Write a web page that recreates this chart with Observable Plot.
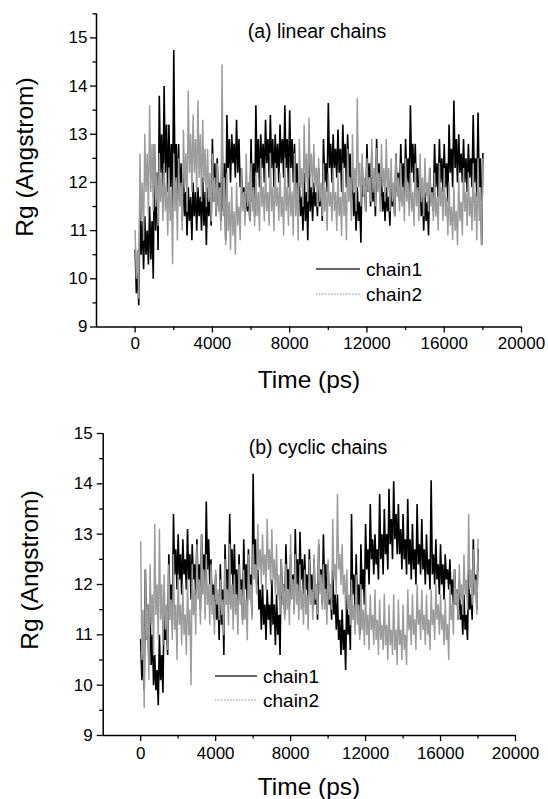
<!DOCTYPE html>
<html><head><meta charset="utf-8">
<script src="https://cdn.jsdelivr.net/npm/d3@7"></script>
<script src="https://cdn.jsdelivr.net/npm/@observablehq/plot@0.6"></script>
<style>
body{margin:0;background:#fff;}
#wrap{position:relative;width:548px;height:799px;font-family:"Liberation Sans",Arial,sans-serif;color:#000;overflow:hidden;}
.panel{position:absolute;left:0;}
.lbl{position:absolute;white-space:nowrap;line-height:1;transform:translate(-50%,-50%);}
.rot{transform:translate(-50%,-50%) rotate(-90deg);}
.leg{position:absolute;white-space:nowrap;line-height:1;transform:translateY(-50%);font-size:19px;}
</style></head><body><div id="wrap"></div>
<script>
// Each 250 ps bin: envelope (hi/lo) and dense core band (coreHi/coreLo)
const stepPs = 250;
const xMajor = [0, 4000, 8000, 12000, 16000, 20000];
const xMinor = [2000, 6000, 10000, 14000, 18000];
const yMajor = [9, 10, 11, 12, 13, 14, 15];
const yMinorA = [9.5, 10.5, 11.5, 12.5, 13.5, 14.5, 15.5];
const yMinorB = [9.5, 10.5, 11.5, 12.5, 13.5, 14.5];
const seriesNames = ["chain1", "chain2"];
const titleA = "(a) linear chains";
const titleB = "(b) cyclic chains";

// (a) linear chains
const aChain1Hi = [10.6,11.6,11.3,11.5,12.8,13.8,14.0,13.2,14.75,12.8,12.2,11.9,12.0,11.9,12.1,11.9,12.9,12.5,12.9,13.4,13.0,13.3,12.3,11.9,12.9,13.6,13.0,13.3,13.4,13.0,13.2,13.6,13.5,12.8,12.0,12.2,12.4,12.0,12.3,12.9,13.65,13.0,13.1,13.2,13.0,12.2,11.9,12.4,12.8,12.6,12.9,12.2,11.9,12.1,12.6,12.8,12.9,13.6,12.8,12.2,11.8,12.3,12.8,12.9,12.8,13.2,13.7,13.0,12.9,12.8,13.4,13.45,12.6];
const aChain1Lo = [9.45,10.2,10.3,10.0,10.6,11.6,11.8,11.4,11.6,11.2,10.9,10.8,11.0,11.0,10.7,11.1,11.3,11.2,10.8,12.0,12.1,11.9,11.3,11.2,11.3,11.9,12.0,12.1,11.9,12.0,12.1,11.9,12.0,11.5,11.0,10.8,11.2,11.3,11.2,11.8,12.0,12.1,11.8,11.9,11.7,11.0,10.75,11.4,11.5,11.3,11.6,11.2,11.1,11.3,11.6,11.7,11.8,12.0,11.6,11.0,10.9,11.4,11.7,11.8,11.6,11.9,12.0,12.0,11.8,11.9,11.7,10.7];
const aChain1CoreHi = [10.2,11.2,11.0,11.2,12.2,13.0,13.2,12.8,12.8,12.4,11.8,11.7,11.8,11.7,11.8,11.7,12.4,12.0,12.4,12.9,12.8,12.9,11.9,11.7,12.4,12.9,12.8,12.9,12.9,12.8,12.9,12.9,12.9,12.4,11.7,11.8,11.9,11.8,11.9,12.4,12.8,12.7,12.7,12.8,12.6,11.8,11.6,12.0,12.4,12.1,12.4,11.8,11.7,11.8,12.2,12.4,12.5,12.8,12.3,11.8,11.6,11.9,12.4,12.5,12.4,12.7,12.9,12.6,12.5,12.5,12.5,12.5];
const aChain1CoreLo = [9.7,10.5,10.5,10.4,11.0,12.2,12.2,11.9,12.0,11.6,11.3,11.2,11.3,11.3,11.1,11.3,11.6,11.5,11.4,12.3,12.4,12.2,11.5,11.4,11.6,12.2,12.3,12.4,12.3,12.3,12.4,12.3,12.3,11.8,11.3,11.2,11.4,11.5,11.5,12.0,12.3,12.3,12.2,12.3,12.1,11.3,11.2,11.7,11.8,11.6,11.9,11.4,11.4,11.5,11.8,11.9,12.0,12.2,11.8,11.3,11.2,11.6,11.9,12.0,11.9,12.2,12.3,12.2,12.0,12.1,12.0,11.9];
const aChain2Hi = [11.0,12.6,13.0,13.6,12.8,12.6,12.4,12.3,12.6,12.5,13.1,13.9,13.4,13.7,13.3,12.7,12.6,12.4,14.45,12.2,11.9,12.0,12.3,12.6,12.4,12.2,12.5,12.3,12.6,12.4,12.2,12.5,12.3,12.6,12.9,13.2,13.35,12.8,12.5,12.4,12.2,12.3,12.2,12.4,12.7,13.0,13.75,12.6,12.5,12.9,12.7,12.8,12.9,12.5,12.6,12.4,12.5,12.2,12.4,12.6,12.5,12.3,12.2,12.4,12.3,12.0,11.9,12.1,12.3,12.2,12.4,12.5,12.5];
const aChain2Lo = [9.6,10.8,11.3,11.4,11.1,11.2,10.9,10.3,10.8,11.0,11.4,11.8,11.8,11.6,11.5,11.2,11.3,11.0,10.7,10.6,10.5,10.8,11.1,11.2,11.1,11.0,11.2,11.1,11.0,11.2,10.9,11.1,10.9,10.8,11.5,11.6,11.8,11.5,11.3,11.0,11.2,11.0,10.9,10.8,11.2,11.4,11.5,11.4,11.6,11.5,11.4,11.6,11.4,11.3,11.4,11.2,11.3,11.1,11.2,11.3,11.4,11.2,11.0,11.2,10.9,10.8,10.7,10.9,11.1,11.0,10.8,10.7];
const aChain2CoreHi = [10.6,12.0,12.6,12.8,12.2,12.2,12.0,11.9,12.1,12.0,12.6,13.0,12.9,13.0,12.7,12.2,12.1,11.9,12.1,11.6,11.4,11.5,11.8,12.0,11.9,11.8,11.9,11.8,11.9,11.9,11.7,11.9,11.8,12.0,12.3,12.6,12.6,12.3,12.0,11.9,11.8,11.8,11.7,11.8,12.1,12.3,12.4,12.1,12.1,12.3,12.2,12.3,12.3,12.0,12.1,11.9,12.0,11.8,11.9,12.1,12.0,11.8,11.7,11.9,11.7,11.5,11.4,11.6,11.8,11.7,11.8,11.9];
const aChain2CoreLo = [10.0,11.2,11.8,11.8,11.5,11.6,11.4,11.2,11.4,11.5,11.9,12.2,12.2,12.1,12.0,11.6,11.6,11.4,11.3,11.0,10.9,11.1,11.4,11.5,11.4,11.3,11.5,11.4,11.4,11.5,11.3,11.4,11.3,11.3,11.9,12.0,12.1,11.9,11.6,11.4,11.5,11.4,11.3,11.3,11.6,11.8,11.9,11.7,11.8,11.8,11.8,11.9,11.8,11.6,11.7,11.5,11.6,11.4,11.5,11.6,11.7,11.5,11.3,11.5,11.3,11.1,11.0,11.2,11.4,11.3,11.2,11.2];

// (b) cyclic chains
const bChain1Hi = [10.9,12.3,11.5,10.6,11.0,11.6,12.6,13.4,13.0,12.9,13.1,12.8,12.9,13.0,13.65,12.5,12.2,12.4,12.8,13.4,12.8,12.6,12.9,12.7,14.2,12.3,12.0,11.9,12.1,11.8,12.5,12.8,12.6,13.1,13.05,12.6,12.7,12.5,12.8,13.0,12.4,12.3,11.8,11.5,11.9,13.4,12.6,12.8,13.2,13.6,13.0,13.8,13.5,13.9,14.05,13.6,13.4,13.7,13.2,13.6,13.3,13.0,14.07,12.9,12.8,12.6,12.5,12.3,12.1,11.8,12.3,12.9,12.7];
const bChain1Lo = [9.9,10.4,10.0,9.6,9.85,10.6,11.2,11.9,11.8,11.9,11.7,11.8,11.5,11.8,12.0,11.3,10.9,10.6,11.6,11.8,11.4,11.3,11.6,11.4,12.0,11.1,10.9,11.0,10.8,10.6,11.4,11.6,11.5,11.7,11.8,11.6,11.5,11.3,11.6,11.5,11.3,11.1,10.6,10.3,10.7,11.5,11.0,11.6,12.0,12.2,12.1,12.2,12.3,12.5,12.6,12.3,12.2,12.1,12.0,12.2,12.0,11.9,12.0,11.8,11.7,11.9,11.6,11.3,11.0,10.9,11.3,11.5];
const bChain1CoreHi = [10.6,11.6,11.0,10.3,10.6,11.2,12.0,12.7,12.6,12.5,12.6,12.4,12.4,12.6,12.9,12.0,11.8,11.9,12.3,12.7,12.3,12.1,12.4,12.2,12.9,11.9,11.6,11.6,11.6,11.4,12.0,12.3,12.2,12.5,12.5,12.2,12.2,12.0,12.3,12.4,12.0,11.8,11.3,11.1,11.4,12.2,12.0,12.3,12.7,12.9,12.7,13.0,13.0,13.3,13.4,13.1,12.9,12.9,12.7,12.8,12.7,12.5,12.6,12.4,12.4,12.3,12.1,11.9,11.6,11.4,11.8,12.2];
const bChain1CoreLo = [10.1,10.9,10.4,9.9,10.1,10.9,11.6,12.2,12.1,12.2,12.1,12.1,11.9,12.2,12.3,11.6,11.3,11.2,11.9,12.2,11.8,11.7,11.9,11.8,12.3,11.5,11.2,11.3,11.2,11.0,11.7,11.9,11.8,12.0,12.1,11.9,11.8,11.6,11.9,11.9,11.6,11.4,10.9,10.7,11.0,11.8,11.5,11.9,12.3,12.5,12.4,12.5,12.6,12.8,12.9,12.6,12.5,12.4,12.3,12.4,12.3,12.2,12.2,12.1,12.0,12.1,11.8,11.6,11.3,11.1,11.5,11.8];
const bChain2Hi = [12.85,12.3,12.4,13.2,13.1,12.2,12.4,12.6,12.2,12.0,12.1,12.4,12.8,13.0,12.6,12.4,12.3,12.1,12.5,12.8,12.2,12.4,12.3,12.6,12.8,13.2,13.0,13.3,13.1,12.8,12.5,12.4,13.0,12.6,12.4,12.3,12.5,12.6,12.9,12.4,12.5,13.3,13.8,12.8,12.3,12.1,12.2,12.0,11.9,11.8,11.9,11.7,11.8,11.6,11.8,11.7,11.6,11.9,11.8,12.0,11.9,11.8,11.9,12.0,11.8,11.7,12.0,12.3,12.4,12.6,13.4,12.7,12.9];
const bChain2Lo = [9.55,10.1,10.6,10.9,10.8,10.7,10.9,10.5,10.8,10.6,10.0,11.0,11.2,11.3,11.2,11.0,11.3,11.0,11.2,11.1,11.0,11.2,10.9,11.3,11.8,12.0,11.9,12.0,11.8,11.4,11.3,11.2,11.4,11.3,11.2,11.1,11.3,11.4,11.5,11.2,11.5,11.8,12.0,11.5,11.2,11.0,10.9,10.8,10.7,10.8,10.6,10.7,10.5,10.6,10.4,10.5,10.4,10.8,10.7,10.9,10.8,10.7,10.9,11.0,10.8,10.5,11.0,11.3,11.4,11.5,11.6,11.4];
const bChain2CoreHi = [11.5,11.6,11.8,12.0,12.0,11.6,11.7,11.6,11.6,11.4,11.5,11.9,12.1,12.3,12.0,11.8,11.9,11.7,11.9,12.0,11.8,11.9,11.7,12.0,12.4,12.7,12.6,12.7,12.5,12.2,12.0,11.9,12.1,12.0,11.9,11.8,11.9,12.0,12.2,11.9,12.0,12.4,12.6,12.2,11.8,11.6,11.6,11.5,11.4,11.4,11.3,11.2,11.2,11.1,11.1,11.1,11.0,11.4,11.3,11.5,11.4,11.3,11.5,11.6,11.4,11.2,11.6,11.9,12.0,12.1,12.3,12.1];
const bChain2CoreLo = [10.5,10.9,11.2,11.4,11.3,11.1,11.3,11.1,11.2,11.0,11.0,11.4,11.7,11.8,11.6,11.4,11.6,11.4,11.6,11.5,11.4,11.6,11.3,11.7,12.1,12.3,12.2,12.3,12.1,11.7,11.6,11.5,11.7,11.6,11.5,11.4,11.6,11.7,11.8,11.5,11.7,12.1,12.3,11.8,11.5,11.3,11.2,11.1,11.0,11.1,10.9,10.9,10.8,10.8,10.7,10.8,10.7,11.1,11.0,11.2,11.1,11.0,11.2,11.3,11.1,10.9,11.3,11.6,11.7,11.8,11.9,11.8];

function trace(hi, lo, coreHi, coreLo) {
  const out = [];
  const q = stepPs / 4;
  hi.forEach((v, i) => {
    out.push({t: i * stepPs, v});
    if (i < lo.length) {
      out.push({t: i * stepPs + q, v: coreLo[i]});
      out.push({t: i * stepPs + 2 * q, v: coreHi[i]});
      out.push({t: i * stepPs + 3 * q, v: lo[i]});
    }
  });
  return out;
}

const FONT = '"Liberation Sans", Arial, sans-serif';

function panel(cfg) {
  return Plot.plot({
    width: 548, height: cfg.height,
    marginLeft: cfg.ml, marginRight: cfg.mr, marginTop: cfg.mt, marginBottom: cfg.mb,
    style: {fontFamily: FONT, background: "transparent", color: "#000", overflow: "visible"},
    x: {domain: [-2000, 20000]},
    y: {domain: cfg.ydom},
    marks: [
      Plot.line(cfg.c1, {x: "t", y: "v", stroke: "#000", strokeWidth: 1.6, strokeLinejoin: "miter", strokeMiterlimit: 2}),
      Plot.line(cfg.c2, {x: "t", y: "v", stroke: "#9c9c9c", strokeWidth: 1.5, strokeDasharray: "2,0.8", strokeLinejoin: "miter", strokeMiterlimit: 2}),
      Plot.axisX(xMajor, {tickSize: 6, tickPadding: cfg.xpad, fontSize: 17, tickFormat: d => String(d), label: null, strokeWidth: 1.3}),
      Plot.axisX(xMinor, {tickSize: 3.5, tickFormat: () => "", label: null, strokeWidth: 1.3}),
      Plot.axisY(yMajor, {tickSize: 6, tickPadding: cfg.ypad, fontSize: 17, tickFormat: d => String(d), label: null, strokeWidth: 1.3}),
      Plot.axisY(cfg.yminor, {tickSize: 3.5, tickFormat: () => "", label: null, strokeWidth: 1.3}),
      Plot.ruleY([cfg.ydom[0]], {strokeWidth: 1.5}),
      Plot.ruleX([-2000], {strokeWidth: 1.5})
    ]
  });
}

const wrap = document.getElementById("wrap");

function addPanel(top, cfg) {
  const svg = panel(cfg);
  svg.classList.add("panel");
  svg.style.top = top + "px";
  wrap.appendChild(svg);
}

addPanel(0, {height: 400, ml: 96, mr: 27, mt: 13.3, mb: 73.5, ydom: [9, 15.5], yminor: yMinorA,
  c1: trace(aChain1Hi, aChain1Lo, aChain1CoreHi, aChain1CoreLo),
  c2: trace(aChain2Hi, aChain2Lo, aChain2CoreHi, aChain2CoreLo), xpad: 4, ypad: 3});
addPanel(400, {height: 399, ml: 102.7, mr: 33, mt: 33, mb: 64, ydom: [9, 15], yminor: yMinorB,
  c1: trace(bChain1Hi, bChain1Lo, bChain1CoreHi, bChain1CoreLo),
  c2: trace(bChain2Hi, bChain2Lo, bChain2CoreHi, bChain2CoreLo), xpad: 5, ypad: 4.5});

function label(text, x, y, size, cls) {
  const d = document.createElement("div");
  d.className = "lbl" + (cls ? " " + cls : "");
  d.textContent = text;
  d.style.left = x + "px"; d.style.top = y + "px"; d.style.fontSize = size + "px";
  wrap.appendChild(d);
}
function legendRow(name, x1, x2, y, dashed) {
  const s = document.createElementNS("http://www.w3.org/2000/svg", "svg");
  s.setAttribute("width", x2 - x1); s.setAttribute("height", 4);
  s.style.position = "absolute"; s.style.left = x1 + "px"; s.style.top = (y - 2) + "px";
  const l = document.createElementNS("http://www.w3.org/2000/svg", "line");
  l.setAttribute("x1", 0); l.setAttribute("x2", x2 - x1); l.setAttribute("y1", 2); l.setAttribute("y2", 2);
  l.setAttribute("stroke", dashed ? "#969696" : "#333");
  l.setAttribute("stroke-width", dashed ? 1.2 : 1.4);
  if (dashed) l.setAttribute("stroke-dasharray", "1.6,1.4");
  s.appendChild(l);
  wrap.appendChild(s);
  const t = document.createElement("div");
  t.className = "leg"; t.textContent = name;
  t.style.left = (x2 + 6) + "px"; t.style.top = y + "px";
  wrap.appendChild(t);
}

// panel (a) texts
label(titleA, 317, 32, 19.5);
label("Rg (Angstrom)", 25, 157, 24.5, "rot");
label("Time (ps)", 309, 380, 24.5);
legendRow(seriesNames[0], 316, 360, 269, false);
legendRow(seriesNames[1], 316, 360, 293.5, true);

// panel (b) texts
label(titleB, 318, 448, 19.5);
label("Rg (Angstrom)", 30, 570, 24.5, "rot");
label("Time (ps)", 309, 787, 24.5);
legendRow(seriesNames[0], 215, 257, 676, false);
legendRow(seriesNames[1], 215, 257, 699.5, true);
</script></body></html>
